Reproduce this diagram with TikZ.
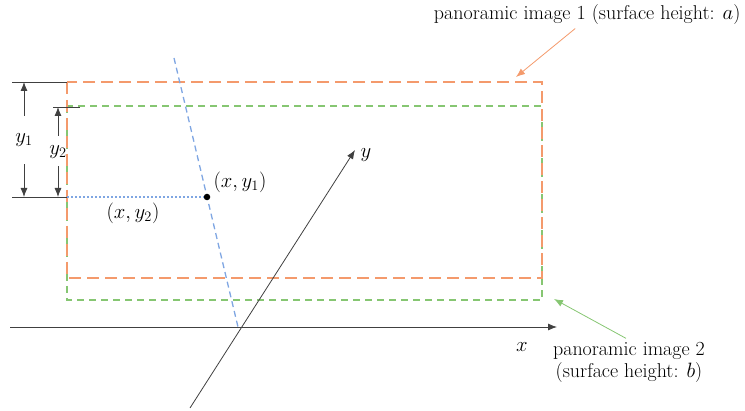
\documentclass[tikz,border=0pt]{standalone}
\usetikzlibrary{arrows.meta,positioning}
\definecolor{imgone}{HTML}{F49A6C}
\definecolor{imgtwo}{HTML}{86C672}
\definecolor{ray}{HTML}{7FA6E2}
\definecolor{axis}{HTML}{404040}

\begin{document}
\begin{tikzpicture}[x=1pt,y=-1pt,>={Latex[length=9pt,width=7pt]},font=\fontsize{20}{22}\selectfont]
\useasboundingbox (0,0) rectangle (745,411);
% the two panoramic images
\draw[imgtwo,line width=1.6pt,dash pattern=on 7pt off 5pt] (67,106) rectangle (542,300);
\draw[imgone,line width=1.6pt,dash pattern=on 12pt off 6pt] (67,82) rectangle (542,278);
% axes
\coordinate (xs) at (10,327);\coordinate (xe) at (557,327);
\coordinate (ys) at (190,408);\coordinate (ye) at (355,150);
\draw[->,axis,thick] (xs)--(xe);\draw[->,axis,thick] (ys)--(ye);
\node (xlab) at (522,347){$x$};\node (ylab) at (366,155){$y$};
% viewing ray and point
\coordinate (rt) at (174,58);\coordinate (rb) at (238,327);
\draw[ray,line width=1.3pt,dash pattern=on 6pt off 4pt] (rt)--(rb);
\node[circle,fill,inner sep=2.3pt] (pt) at (207,197){};
\coordinate (foot) at (67,197);
\draw[ray,line width=1.3pt,dash pattern=on 2pt off 2pt] (foot)--(pt);
\node (p1lab) at (240,182){$(x,y_1)$};\node (p2lab) at (133,213){$(x,y_2)$};
% heights
\coordinate (t1) at (24,82);\coordinate (t2) at (58,107);\coordinate (b1) at (24,197);\coordinate (b2) at (58,197);
\draw[axis,thick] (12,82)--(67,82) (53,107)--(80,107) (12,197)--(67,197);
\node (y1lab) at (24,140){$y_1$};\node (y2lab) at (58,152){$y_2$};
\draw[->,axis,thick] ([yshift=14pt]y1lab.north)--(t1);\draw[->,axis,thick] ([yshift=-14pt]y1lab.south)--(b1);
\draw[->,axis,thick] ([yshift=6pt]y2lab.north)--(t2);\draw[->,axis,thick] ([yshift=-4pt]y2lab.south)--(b2);
% labels
\node[anchor=east] (img1) at (744,15){panoramic image 1 (surface height: $a$)};
\node[align=center] (img2) at (629,362){panoramic image 2\\(surface height: $b$)};
\coordinate (tip1) at (516,77);\coordinate (tip2) at (554,299);
\draw[->,imgone,thick] ([xshift=-12pt]img1.south)--(tip1);
\draw[->,imgtwo,thick] ([xshift=-3pt]img2.north)--(tip2);
\end{tikzpicture}
\end{document}
